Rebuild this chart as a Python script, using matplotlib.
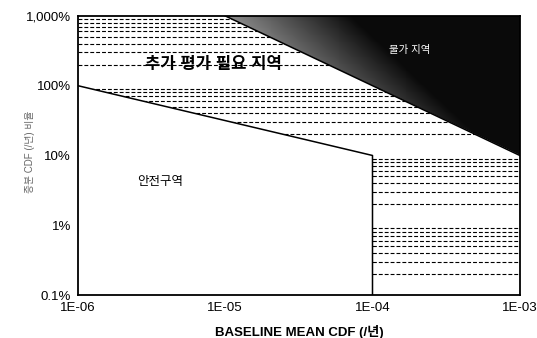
import numpy as np
import matplotlib
matplotlib.use("Agg")
import matplotlib.pyplot as plt
from matplotlib.patches import Polygon

plt.rcParams['font.family'] = ['Liberation Sans', 'Noto Sans CJK KR', 'DejaVu Sans']

# ---- data ----
x_ticks = [1e-6, 1e-5, 1e-4, 1e-3]
x_tick_labels = ["1E-06", "1E-05", "1E-04", "1E-03"]
y_ticks = [0.1, 1, 10, 100, 1000]
y_tick_labels = ["0.1%", "1%", "10%", "100%", "1,000%"]

# safe-region boundary (baseline CDF, % increase)
safe_x = [1e-6, 1e-4, 1e-4]
safe_y = [100, 10, 0.1]
# unacceptable-region boundary
unacc_x = [1e-5, 1e-3]
unacc_y = [1000, 10]

xlabel = "BASELINE MEAN CDF (/년)"
ylabel = "증분 CDF (/년) 비율"
label_eval = "추가 평가 필요 지역"
label_unacc = "불가 지역"
label_safe = "안전구역"

fig = plt.figure(figsize=(5.37, 3.38), dpi=100)
ax = fig.add_axes([0.145, 0.127, 0.823, 0.826])
ax.set_xscale('log')
ax.set_yscale('log')
ax.set_xlim(1e-6, 1e-3)
ax.set_ylim(0.1, 1000)

# region needing further evaluation (for clipping dashed lines)
eval_poly = Polygon([(1e-6, 100), (1e-6, 1000), (unacc_x[0], unacc_y[0]),
                     (unacc_x[1], unacc_y[1]), (1e-3, 0.1), (1e-4, 0.1),
                     (1e-4, 10)], closed=True, transform=ax.transData,
                    facecolor='none', edgecolor='none')
ax.add_patch(eval_poly)

minor_vals = [d * k for d in [0.1, 1, 10, 100] for k in range(2, 10)]
for v in minor_vals:
    ln = ax.axhline(v, color='black', lw=0.8, linestyle=(0, (3.5, 1.8)))
    ln.set_clip_path(eval_poly)

# unacceptable triangle with dark gradient
tri = Polygon([(unacc_x[0], unacc_y[0]), (1e-3, 1000), (unacc_x[1], unacc_y[1])],
              closed=True, transform=ax.transData, facecolor='none', edgecolor='none')
ax.add_patch(tri)
gx = np.logspace(-5, -3, 300)
gy = np.logspace(1, 3, 300)
GX, GY = np.meshgrid(gx, gy)
u = np.log10(GX) + 6
v = np.log10(GY) + 1
d = u + v - 5
b = 0.55 - 0.3 * (u - 1) - 0.3 * d
b = np.clip(b, 0.04, 1)
mesh = ax.pcolormesh(gx, gy, b[:-1, :-1], cmap='gray', vmin=0, vmax=1, shading='flat')
mesh.set_clip_path(tri)

# boundary lines
ax.plot(safe_x, safe_y, color='black', lw=1.1)
ax.plot(unacc_x, unacc_y, color='black', lw=1.1)

# labels inside
ax.text(8.3e-6, 200, label_eval, fontsize=12, fontweight='bold', ha='center', va='center')
ax.text(1.8e-4, 325, label_unacc, fontsize=7.5, color='white', ha='center', va='center')
ax.text(3.6e-6, 4.2, label_safe, fontsize=9, ha='center', va='center')

ax.set_xticks(x_ticks)
ax.set_xticklabels(x_tick_labels)
ax.set_yticks(y_ticks)
ax.set_yticklabels(y_tick_labels)
ax.xaxis.set_minor_locator(matplotlib.ticker.NullLocator())
ax.yaxis.set_minor_locator(matplotlib.ticker.NullLocator())
ax.tick_params(length=0, labelsize=9.5, pad=5)
for s in ax.spines.values():
    s.set_linewidth(1.3)

ax.set_xlabel(xlabel, fontsize=9.5, fontweight='bold', labelpad=8)
fig.text(0.056, 0.55, ylabel, rotation=90, fontsize=7, color='#666666',
         ha='center', va='center')

fig.savefig('out.png', dpi=100)
